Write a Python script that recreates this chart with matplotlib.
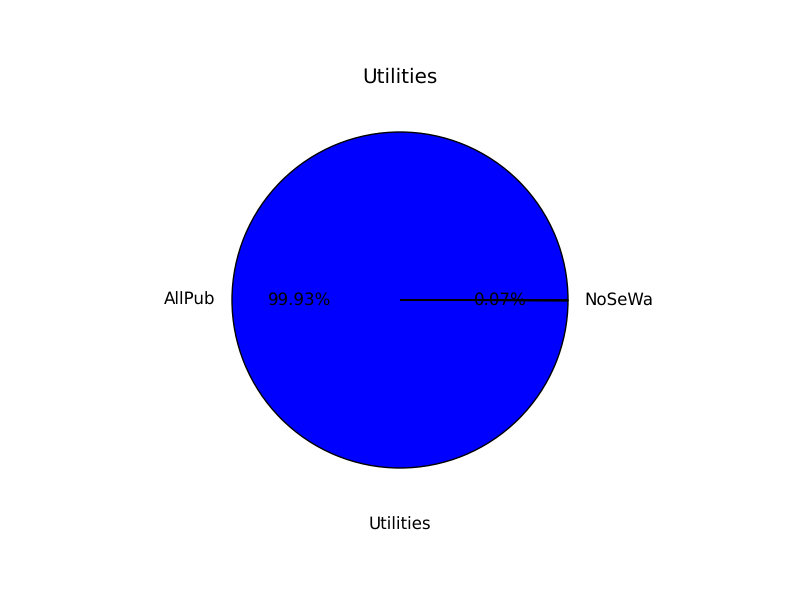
import matplotlib
matplotlib.use('Agg')
import matplotlib.pyplot as plt

plt.style.use('classic')
plt.rcParams['text.hinting'] = 'no_hinting'

labels = ['AllPub', 'NoSeWa']
counts = [1459, 1]

fig = plt.figure(figsize=(8, 6), dpi=100)
ax = fig.add_axes([0.2375, 0.15, 0.525, 0.7])
ax.pie(counts, labels=labels, autopct='%.2f%%')
ax.set_xlim(-1.25, 1.25)
ax.set_ylim(-1.25, 1.25)
ax.set_aspect('equal')
ax.set_title('Utilities')
ax.set_xlabel('Utilities')
ax.set_ylabel('')
fig.savefig('out.png', dpi=100)
